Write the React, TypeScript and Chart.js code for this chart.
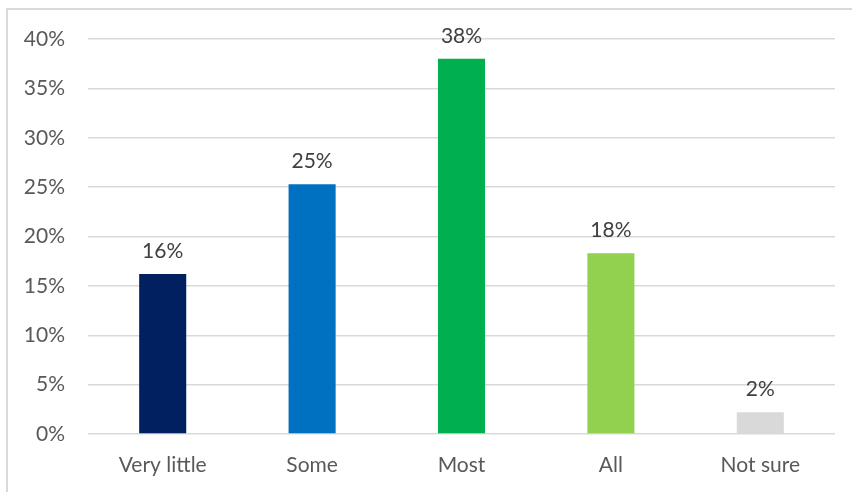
import React, { useEffect, useRef } from "react";
import { Chart, registerables } from "chart.js";

Chart.register(...registerables);

const categories = ["Very little", "Some", "Most", "All", "Not sure"];
const values = [16.2, 25.3, 38.0, 18.3, 2.2];
const labels = ["16%", "25%", "38%", "18%", "2%"];
const colors = ["#002060", "#0070C0", "#00B050", "#92D050", "#D9D9D9"];

const FONT = "Lato, 'Open Sans', 'Liberation Sans', sans-serif";

const labelPlugin = {
  id: "barLabels",
  afterDatasetsDraw(chart: any) {
    const ctx = chart.ctx;
    const meta = chart.getDatasetMeta(0);
    ctx.save();
    ctx.font = `21px ${FONT}`;
    ctx.fillStyle = "#404040";
    ctx.textAlign = "center";
    ctx.textBaseline = "middle";
    meta.data.forEach((bar: any, i: number) => {
      ctx.fillText(labels[i], bar.x, bar.y - 23);
    });
    ctx.restore();
  },
};

export default function App() {
  const ref = useRef<HTMLCanvasElement>(null);
  useEffect(() => {
    if (!ref.current) return;
    const chart = new Chart(ref.current, {
      type: "bar",
      data: {
        labels: categories,
        datasets: [
          {
            data: values,
            backgroundColor: colors,
            barPercentage: 1,
            categoryPercentage: 0.315,
          },
        ],
      },
      options: {
        animation: false,
        responsive: false,
        maintainAspectRatio: false,
        layout: { padding: { top: 39, right: 17, left: 0, bottom: 0 } },
        plugins: {
          legend: { display: false },
          tooltip: { enabled: false },
        },
        scales: {
          x: {
            grid: { display: false },
            border: { display: false },
            ticks: {
              color: "#595959",
              font: { family: FONT, size: 21 },
              padding: 11,
            },
            afterFit: (s: any) => {
              s.height = 58;
            },
          },
          y: {
            min: 0,
            max: 40,
            grid: { color: "#D9D9D9", lineWidth: 1.5, drawTicks: false },
            border: { display: false },
            ticks: {
              stepSize: 5,
              color: "#595959",
              font: { family: FONT, size: 21 },
              padding: 23,
              callback: (v: any) => `${v}%`,
            },
            afterFit: (s: any) => {
              s.width = 88;
            },
          },
        },
      },
      plugins: [labelPlugin],
    });
    return () => chart.destroy();
  }, []);
  return (
    <div
      style={{
        position: "absolute",
        left: 0,
        top: 0,
        width: 852,
        height: 492,
        overflow: "hidden",
        background: "#fff",
      }}
    >
      <div
        style={{
          position: "absolute",
          left: 6,
          top: 8,
          width: 900,
          height: 540,
          border: "2px solid #D9D9D9",
        }}
      />
      <canvas
        ref={ref}
        width={852}
        height={492}
        style={{ position: "absolute", left: 0, top: 0 }}
      />
    </div>
  );
}
